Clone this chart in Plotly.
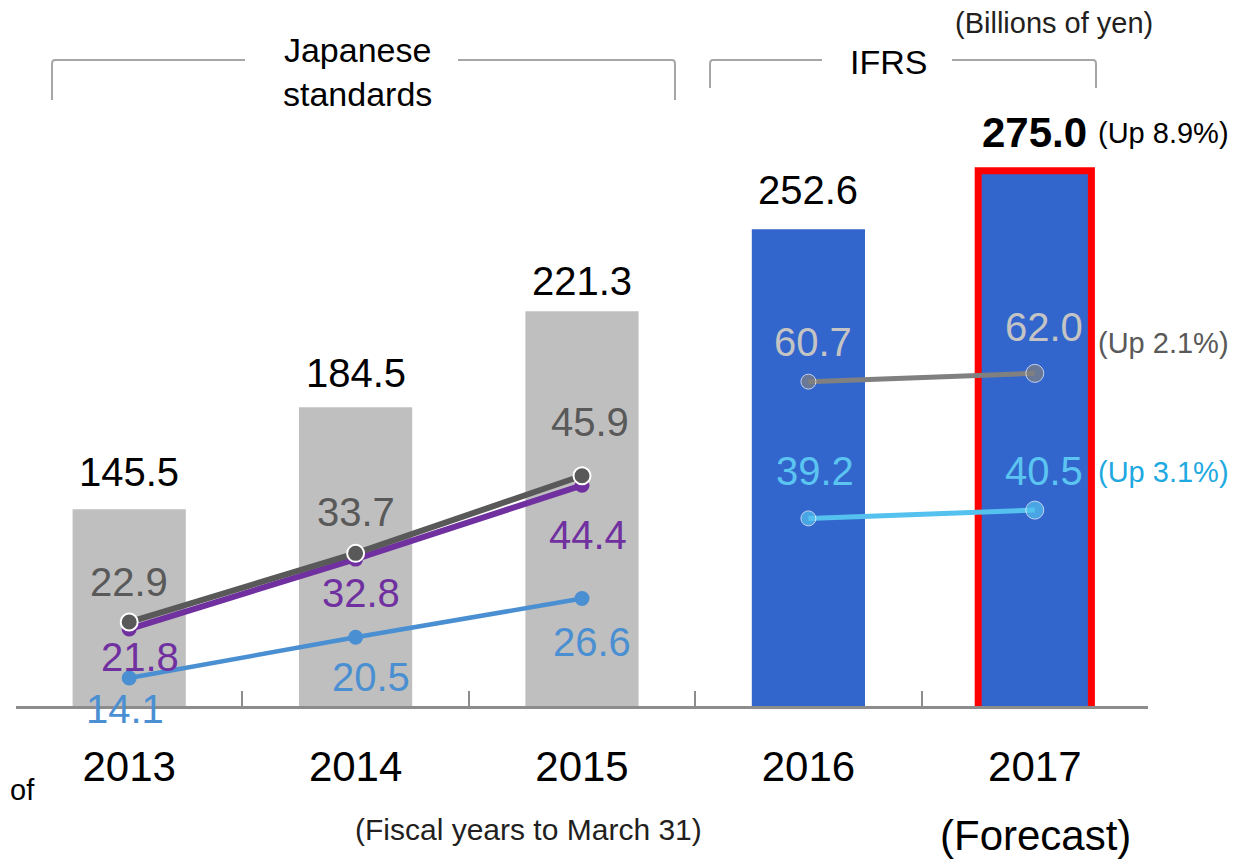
import plotly.graph_objects as go

# ---------------- data ----------------
years = ["2013", "2014", "2015", "2016", "2017"]
revenue = [145.5, 184.5, 221.3, 252.6, 275.0]
revenue_labels = ["145.5", "184.5", "221.3", "252.6", "275.0"]

jp_years = ["2013", "2014", "2015"]
jp_gray = [22.9, 33.7, 45.9]
jp_purple = [21.8, 32.8, 44.4]
jp_blue = [14.1, 20.5, 26.6]

ifrs_years = ["2016", "2017"]
ifrs_gray = [60.7, 62.0]
ifrs_blue = [39.2, 40.5]

# ---------------- layout geometry ----------------
OFF = 8                      # page body margin
W, H = 1236 - OFF, 859 - OFF
ML, MR, MT, MB = 8, 88, 92, 153
PW, PH = W - ML - MR, H - MT - MB
FONT = "Arial, Liberation Sans, sans-serif"


def px(x):
    return (x - OFF - ML) / PW


def py(y):
    return (H - MB - (y - OFF)) / PH


fig = go.Figure()

bar_colors = ["#bfbfbf", "#bfbfbf", "#bfbfbf", "#3366cc", "#3366cc"]
line_colors = ["rgba(0,0,0,0)"] * 4 + ["#ff0000"]
line_widths = [0, 0, 0, 0, 7]
fig.add_trace(go.Bar(
    x=years, y=revenue,
    marker=dict(color=bar_colors, line=dict(color=line_colors, width=line_widths)),
    width=0.5, hoverinfo="skip", showlegend=False,
))

# Japanese standards lines (secondary axis)
fig.add_trace(go.Scatter(
    x=jp_years, y=jp_purple, yaxis="y2", mode="lines+markers",
    line=dict(color="#7030a0", width=6), marker=dict(size=15, color="#7030a0"),
    showlegend=False,
))
fig.add_trace(go.Scatter(
    x=jp_years, y=jp_gray, yaxis="y2", mode="lines+markers",
    line=dict(color="#595959", width=6),
    marker=dict(size=17, color="#595959", line=dict(color="white", width=2)),
    showlegend=False,
))
fig.add_trace(go.Scatter(
    x=jp_years, y=jp_blue, yaxis="y2", mode="lines+markers",
    line=dict(color="#4a8fd2", width=4.5), marker=dict(size=15, color="#4a8fd2"),
    showlegend=False,
))
# IFRS lines
fig.add_trace(go.Scatter(
    x=ifrs_years, y=ifrs_gray, yaxis="y2", mode="lines+markers",
    line=dict(color="#808080", width=5), marker=dict(size=[15, 18], color="#808080"),
    showlegend=False,
))
fig.add_trace(go.Scatter(
    x=ifrs_years, y=ifrs_blue, yaxis="y2", mode="lines+markers",
    line=dict(color="#55c1ef", width=5), marker=dict(size=[15, 18], color="#55c1ef"),
    showlegend=False,
))

ann = []
# bar value labels (x given as category index)
bar_shifts = [37, 34, 30, 39, 38]
for i, (v, lab) in enumerate(zip(revenue, revenue_labels)):
    bold = i == 4
    ann.append(dict(x=i, y=v, xref="x", yref="y", text=f"<b>{lab}</b>" if bold else lab,
                    showarrow=False, yanchor="middle", yshift=bar_shifts[i],
                    font=dict(size=42 if bold else 40, color="black", family=FONT)))


def line_labels(xs, vals, color, shifts):
    for x, v, (dx, dy) in zip(xs, vals, shifts):
        ann.append(dict(x=years.index(x), y=v, xref="x", yref="y2", text=f"{v:.1f}",
                        showarrow=False, xshift=dx, yshift=dy, yanchor="middle",
                        font=dict(size=40, color=color, family=FONT)))


line_labels(jp_years, jp_gray, "#595959", [(0, 40), (0, 41), (8, 54)])
line_labels(jp_years, jp_purple, "#7030a0", [(11, -28), (5, -34), (6, -50)])
line_labels(jp_years, jp_blue, "#4a8fd2", [(-4, -31), (15, -40), (10, -43)])
line_labels(ifrs_years, ifrs_gray, "#c4c4c4", [(5, 40), (9, 46)])
line_labels(ifrs_years, ifrs_blue, "#5bc4f1", [(7, 47), (9, 39)])


def text(x, y, s, size, color="black", xanchor="center"):
    ann.append(dict(x=px(x), y=py(y), xref="paper", yref="paper", text=s, showarrow=False,
                    xanchor=xanchor, yanchor="middle",
                    font=dict(size=size, color=color, family=FONT)))


text(1054, 23, "(Billions of yen)", 29, "#231f20")
text(357, 72, "Japanese<br>standards", 34)
text(888, 62, "IFRS", 34)
text(1163, 133, "(Up 8.9%)", 29)
text(1163, 343, "(Up 2.1%)", 29, "#595959")
text(1163, 472, "(Up 3.1%)", 29, "#1fa9e1")
text(22, 790, "of", 29)
text(528, 829, "(Fiscal years to March 31)", 30, "#231f20")
text(1035, 835, "(Forecast)", 42)

fig.update_layout(annotations=ann)

# brackets
bracket_color = "#a6a6a6"
brackets = [
    ((52, 100), (55, 60), (245, 60)),
    ((675, 100), (672, 60), (458, 60)),
    ((710, 88), (713, 60), (822, 60)),
    ((1096, 88), (1093, 60), (952, 60)),
]
shapes = []
for (x0, y0), (x1, y1), (x2, y2) in brackets:
    path = (f"M {px(x0)} {py(y0)} L {px(x0)} {py(y1 + 4)} "
            f"Q {px(x0)} {py(y1)} {px(x1)} {py(y1)} L {px(x2)} {py(y2)}")
    shapes.append(dict(type="path", path=path, xref="paper", yref="paper",
                       line=dict(color=bracket_color, width=2)))
fig.update_layout(shapes=shapes)

bar_min = 70.25
px_per_bar = 2.614
line_min = 9.7
px_per_line = 6.36

fig.update_layout(
    width=W, height=H,
    margin=dict(l=ML, r=MR, t=MT, b=MB),
    paper_bgcolor="white", plot_bgcolor="white",
    font=dict(family=FONT, color="black"),
    bargap=0.5,
    xaxis=dict(type="category", categoryorder="array", categoryarray=years,
               showline=True, linecolor="#8c8c8c", linewidth=3,
               ticks="inside", tickson="boundaries", ticklen=15, tickwidth=2,
               tickcolor="#8c8c8c", showgrid=False, zeroline=False,
               tickfont=dict(size=42, color="black", family=FONT),
               ticklabelstandoff=22, range=[-0.5, 4.5]),
    yaxis=dict(range=[bar_min, bar_min + PH / px_per_bar], visible=False,
               showgrid=False, zeroline=False),
    yaxis2=dict(range=[line_min, line_min + PH / px_per_line], overlaying="y",
                visible=False, showgrid=False, zeroline=False),
    showlegend=False,
)

fig.write_html("out.html")
